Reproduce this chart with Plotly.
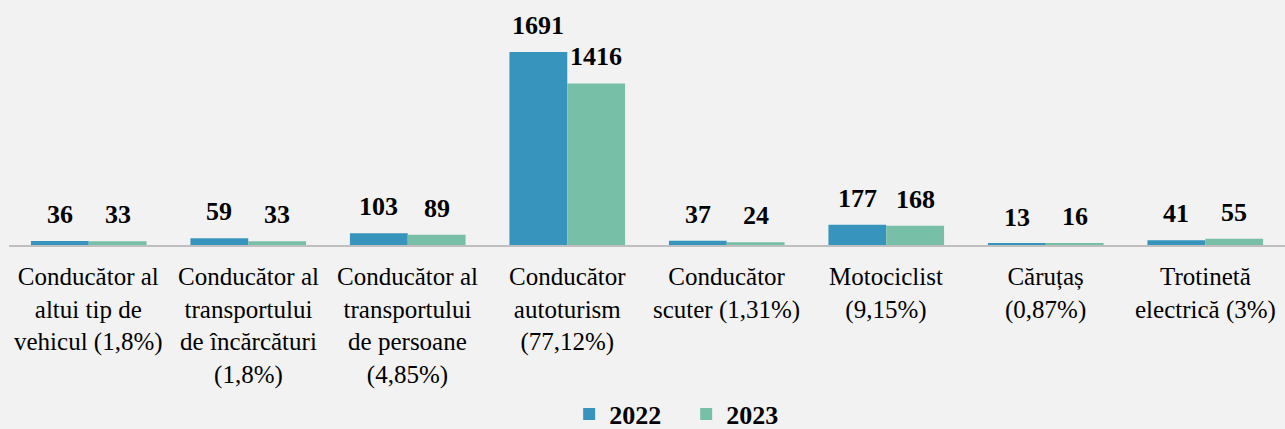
import plotly.graph_objects as go

categories = [
    "Conducător al<br>altui tip de<br>vehicul (1,8%)",
    "Conducător al<br>transportului<br>de încărcături<br>(1,8%)",
    "Conducător al<br>transportului<br>de persoane<br>(4,85%)",
    "Conducător<br>autoturism<br>(77,12%)",
    "Conducător<br>scuter (1,31%)",
    "Motociclist<br>(9,15%)",
    "Căruțaș<br>(0,87%)",
    "Trotinetă<br>electrică (3%)",
]
series_names = ["2022", "2023"]
values_2022 = [36, 59, 103, 1691, 37, 177, 13, 41]
values_2023 = [33, 33, 89, 1416, 24, 168, 16, 55]
colors = ["#3795bd", "#78bfa8"]

SERIF = "Liberation Serif, Tinos, Times New Roman, Times, DejaVu Serif, serif"

fig = go.Figure()
for name, vals, col in zip(series_names, [values_2022, values_2023], colors):
    fig.add_trace(go.Bar(x=categories, y=vals, name=f"<b>{name}</b>", marker_color=col,
                         marker_line_width=0))

# value labels as annotations above bars
bar_px = 58
for i, vals in enumerate([values_2022, values_2023]):
    off = -bar_px / 2 if i == 0 else bar_px / 2
    for c, v in zip(categories, vals):
        fig.add_annotation(x=c, y=v, text=f"<b>{v}</b>", showarrow=False,
                           xshift=off, yanchor="bottom", yshift=10,
                           font=dict(family=SERIF, size=26, color="black"))

# category labels below the axis line
for c in categories:
    fig.add_annotation(x=c, y=0, yref="paper", text=c, showarrow=False,
                       yanchor="top", yshift=-16, align="center",
                       font=dict(family=SERIF, size=25, color="black"))

fig.update_layout(
    template="none",
    width=1285, height=429,
    margin=dict(l=9, r=0, t=20, b=184, pad=0, autoexpand=False),
    paper_bgcolor="#f2f2f2", plot_bgcolor="#f2f2f2",
    barmode="group", bargap=0.275, bargroupgap=0,
    font=dict(family=SERIF, size=25, color="black"),
    showlegend=True,
    legend=dict(orientation="h", x=0.439, xanchor="left", y=-0.752, yanchor="middle",
                font=dict(family=SERIF, size=26, color="black"),
                entrywidth=72, entrywidthmode="pixels",
                bgcolor="rgba(0,0,0,0)", borderwidth=0),
    xaxis=dict(showline=True, linecolor="#bfbfbf", linewidth=1.5, ticks="",
               showgrid=False, zeroline=False, showticklabels=False,
               automargin=False),
    yaxis=dict(range=[0, 1972], visible=False, showgrid=False, zeroline=False),
)

fig.write_html("out.html", config={"displayModeBar": False},
               post_script="document.body.style.margin='0';document.body.style.overflow='hidden';document.body.style.background='#f2f2f2';")
